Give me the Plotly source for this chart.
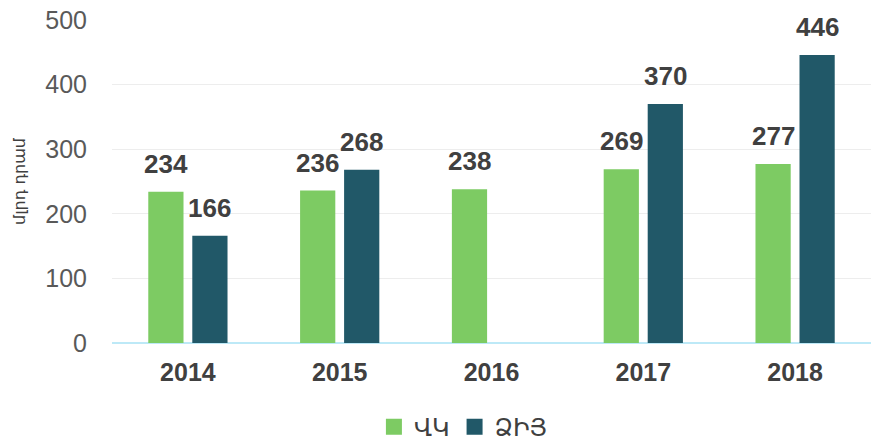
import plotly.graph_objects as go

years = ["2014", "2015", "2016", "2017", "2018"]
vk = [234, 236, 238, 269, 277]
dzih = [166, 268, None, 370, 446]
series_names = ["ՎԿ", "ՁԻՅ"]
y_title = "մլրդ դրամ"
y_ticks = [0, 100, 200, 300, 400, 500]

green = "#7DCB63"
teal = "#215868"
label_color = "#404040"
arial = "Liberation Sans, Arial, sans-serif"

fig = go.Figure()
for name, vals, col in [(series_names[0], vk, green), (series_names[1], dzih, teal)]:
    fig.add_trace(go.Bar(x=years, y=vals, name=name, marker_color=col,
                         marker_line_width=0, showlegend=False))
    # legend entry with a larger square swatch
    fig.add_trace(go.Scatter(x=[None], y=[None], mode="markers", name=name,
                             marker=dict(symbol="square", size=17, color=col),
                             showlegend=True))

# value labels above the bars (x given as category index)
for si, vals in enumerate([vk, dzih]):
    for i, v in enumerate(vals):
        if v is None:
            continue
        fig.add_annotation(x=i, y=v, text=f"<b>{v}</b>", showarrow=False,
                           xref="x", yref="y", yanchor="bottom",
                           xshift=(-22 if si == 0 else 22), yshift=11,
                           font=dict(size=26, color=label_color, family=arial))

fig.update_layout(
    width=871, height=444,
    margin=dict(l=112, r=0, t=20, b=101),
    plot_bgcolor="white", paper_bgcolor="white",
    barmode="group", bargap=0.42, bargroupgap=0.2,
    font=dict(family="Liberation Sans, Arial, DejaVu Sans, sans-serif", color="#595959"),
    showlegend=True,
    legend=dict(orientation="h", x=0.463, xanchor="center",
                yref="container", y=0.038, yanchor="middle",
                font=dict(size=24, color="#404040"), itemsizing="trace",
                traceorder="normal", tracegroupgap=0),
)
fig.update_xaxes(
    type="category", range=[-0.5, len(years) - 0.5], automargin=False,
    tickfont=dict(size=25, color=label_color, family=arial),
    tickprefix="<b>", ticksuffix="</b>",
    showline=False, showgrid=False, ticks="outside", ticklen=7, tickcolor="rgba(0,0,0,0)",
)
fig.update_yaxes(
    range=[0, 500], tickvals=y_ticks, automargin=False,
    tickfont=dict(size=25, color="#595959", family=arial),
    showgrid=True, gridcolor="#EDEDED", gridwidth=1,
    zeroline=True, zerolinecolor="#BDE9F7", zerolinewidth=2,
    showline=False, ticks="outside", ticklen=19, tickcolor="rgba(0,0,0,0)",
    title=dict(text=y_title, font=dict(size=16, color="#404040", family="DejaVu Sans")),
)
fig.write_html("out.html", config={"displayModeBar": False},
               post_script="document.body.style.margin='0';")
